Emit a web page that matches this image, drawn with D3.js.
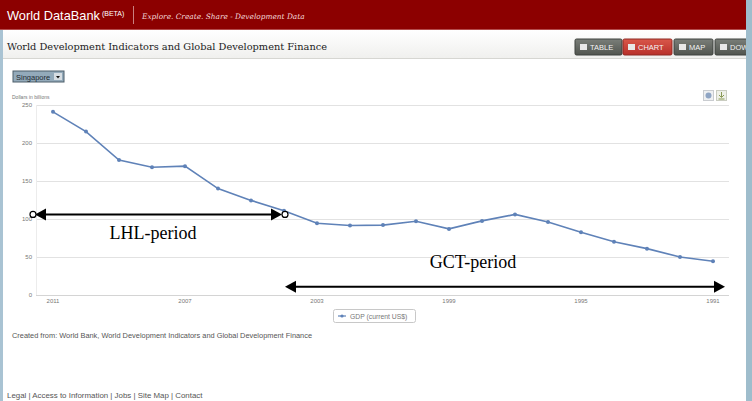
<!DOCTYPE html>
<html>
<head>
<meta charset="utf-8">
<script src="https://cdn.jsdelivr.net/npm/d3@7"></script>
<style>
  body { margin: 0; overflow: hidden; background: #fff; }
  svg { display: block; }
</style>
</head>
<body>
<div id="page"></div>
<script>
// GDP (current US$), Singapore, billions
const years = [2011, 2010, 2009, 2008, 2007, 2006, 2005, 2004, 2003, 2002, 2001,
               2000, 1999, 1998, 1997, 1996, 1995, 1994, 1993, 1992, 1991];
const gdp = [241, 215, 177.5, 168, 169.5, 140, 124.5, 111, 94.5, 91.5, 92,
             97, 87, 97.5, 106, 96, 82.5, 70, 61, 50, 44.5];
const yTicks = [0, 50, 100, 150, 200, 250];
const xTickLabels = [2011, 2007, 2003, 1999, 1995, 1991];
const periodLabels = ["LHL-period", "GCT-period"];

const width = 752;
const height = 401;

const svg = d3.select("#page")
  .append("svg")
  .attr("width", width)
  .attr("height", height)
  .style("font-family", "'Liberation Sans', Arial, sans-serif");

// ---------- page chrome ----------
const defs = svg.append("defs");
const sub = defs.append("linearGradient").attr("id", "subGrad").attr("x2", 0).attr("y2", 1);
sub.append("stop").attr("offset", 0).attr("stop-color", "#ffffff");
sub.append("stop").attr("offset", 1).attr("stop-color", "#f0f0ee");

const btnGrad = defs.append("linearGradient").attr("id", "btnGrad").attr("x2", 0).attr("y2", 1);
btnGrad.append("stop").attr("offset", 0).attr("stop-color", "#7a7e79");
btnGrad.append("stop").attr("offset", 1).attr("stop-color", "#51554f");

const redGrad = defs.append("linearGradient").attr("id", "redGrad").attr("x2", 0).attr("y2", 1);
redGrad.append("stop").attr("offset", 0).attr("stop-color", "#d9574a");
redGrad.append("stop").attr("offset", 1).attr("stop-color", "#b8302a");

svg.append("rect").attr("width", width).attr("height", height).attr("fill", "#fff");

// header bar
svg.append("rect").attr("width", width).attr("height", 29).attr("fill", "#8c0000");
svg.append("line").attr("x1", 0).attr("x2", width).attr("y1", 29.5).attr("y2", 29.5)
  .attr("stroke", "#b44b4b");

const brand = svg.append("text").attr("x", 7).attr("y", 19.5)
  .style("fill", "#fff").style("font-size", "12.8px");
brand.append("tspan").text("World DataBank");
brand.append("tspan").attr("dy", -4).style("font-size", "7px").text(" (BETA)");

svg.append("line").attr("x1", 133.5).attr("x2", 133.5).attr("y1", 6).attr("y2", 24)
  .attr("stroke", "#c98080");

svg.append("text").attr("x", 142).attr("y", 18.5)
  .style("font-family", "'DejaVu Serif', Georgia, serif")
  .style("font-style", "italic")
  .style("font-size", "7.4px")
  .style("fill", "#f3dada")
  .text("Explore. Create. Share - Development Data");

// sub header
svg.append("rect").attr("y", 30).attr("width", width).attr("height", 28).attr("fill", "url(#subGrad)");
svg.append("line").attr("x1", 0).attr("x2", width).attr("y1", 58.5).attr("y2", 58.5)
  .attr("stroke", "#d6d6d2");

svg.append("text").attr("x", 7).attr("y", 49.5)
  .style("font-family", "'DejaVu Serif', Georgia, serif")
  .style("font-size", "9.8px")
  .style("fill", "#222")
  .text("World Development Indicators and Global Development Finance");

// buttons
const buttons = [
  { label: "TABLE", x: 575, w: 47, red: false },
  { label: "CHART", x: 623, w: 49, red: true },
  { label: "MAP", x: 674, w: 39, red: false },
  { label: "DOWN", x: 715, w: 40, red: false }
];
const btn = svg.selectAll("g.btn").data(buttons).enter().append("g")
  .attr("transform", d => `translate(${d.x},39)`);
btn.append("rect")
  .attr("width", d => d.w).attr("height", 16).attr("rx", 1.5)
  .attr("fill", d => d.red ? "url(#redGrad)" : "url(#btnGrad)")
  .attr("stroke", d => d.red ? "#8e2a24" : "#3f423e");
btn.append("rect").attr("x", 5).attr("y", 5).attr("width", 7).attr("height", 6)
  .attr("fill", "#e8e8e8");
btn.append("text").attr("x", 15).attr("y", 11)
  .style("font-size", "7.5px").style("fill", "#f4f4f4")
  .text(d => d.label);

// side strips
svg.append("rect").attr("x", 0).attr("y", 30).attr("width", 3).attr("height", height - 30)
  .attr("fill", "#a9c3d3");
svg.append("rect").attr("x", 746).attr("y", 0).attr("width", 6).attr("height", height)
  .attr("fill", "#9fbdcc");

// country dropdown
const dd = svg.append("g").attr("transform", "translate(13,71)");
dd.append("rect").attr("width", 51).attr("height", 11).attr("fill", "#93aaba").attr("stroke", "#4d5e6a");
dd.append("text").attr("x", 3).attr("y", 8.5).style("font-size", "7.5px").style("fill", "#1e2a33").text("Singapore");
dd.append("rect").attr("x", 41).attr("y", 2).attr("width", 8).attr("height", 7).attr("fill", "#d6dde2");
dd.append("path").attr("d", "M43,5 L47,5 L45,7.5 Z").attr("fill", "#111");

// print / download icons
svg.append("rect").attr("x", 703.5).attr("y", 90.5).attr("width", 10).attr("height", 10)
  .attr("fill", "#eef0f2").attr("stroke", "#c9ccd0");
svg.append("circle").attr("cx", 708.5).attr("cy", 95.5).attr("r", 3).attr("fill", "#8fa5c4");
svg.append("rect").attr("x", 716.5).attr("y", 90.5).attr("width", 10).attr("height", 10)
  .attr("fill", "#eef0e8").attr("stroke", "#c9ccc0");
svg.append("path").attr("d", "M721.5,92 L721.5,97 M719,95 L721.5,97.5 L724,95 M718.5,99 L724.5,99")
  .attr("stroke", "#8a9a55").attr("fill", "none");

// ---------- chart ----------
const x = d3.scalePoint().domain(years).range([53, 713]);
const y = d3.scaleLinear().domain([0, 250]).range([295, 105]);
const plotLeft = 36, plotRight = 729;

svg.append("text").attr("x", 12).attr("y", 99)
  .style("font-size", "5px").style("fill", "#777")
  .text("Dollars in billions");

const grid = svg.append("g");
grid.selectAll("line").data(yTicks).enter().append("line")
  .attr("x1", plotLeft).attr("x2", plotRight)
  .attr("y1", d => Math.round(y(d)) + 0.5).attr("y2", d => Math.round(y(d)) + 0.5)
  .attr("stroke", d => d === 0 ? "#d4d4d4" : "#e2e2e2");
grid.append("line").attr("x1", plotLeft + 0.5).attr("x2", plotLeft + 0.5)
  .attr("y1", y(250)).attr("y2", y(0)).attr("stroke", "#ececec");

svg.append("g").selectAll("text").data(yTicks).enter().append("text")
  .attr("x", 32).attr("y", d => y(d) + 2)
  .attr("text-anchor", "end")
  .style("font-size", "6px").style("fill", "#777")
  .text(d => d);

svg.append("g").selectAll("text").data(xTickLabels).enter().append("text")
  .attr("x", d => x(d)).attr("y", 303)
  .attr("text-anchor", "middle")
  .style("font-size", "6px").style("fill", "#777")
  .text(d => d);

const series = years.map((yr, i) => ({ year: yr, value: gdp[i] }));
const lineColor = "#5f82b8";

svg.append("path")
  .datum(series)
  .attr("fill", "none")
  .attr("stroke", lineColor)
  .attr("stroke-width", 1.6)
  .attr("d", d3.line().x(d => x(d.year)).y(d => y(d.value)));

svg.append("g").selectAll("circle").data(series).enter().append("circle")
  .attr("cx", d => x(d.year)).attr("cy", d => y(d.value))
  .attr("r", 2).attr("fill", lineColor);

// legend
const lg = svg.append("g").attr("transform", "translate(333,309)");
lg.append("rect").attr("x", 0.5).attr("y", 0.5).attr("width", 82).attr("height", 13).attr("rx", 2)
  .attr("fill", "#fff").attr("stroke", "#c8c8c8");
lg.append("line").attr("x1", 5).attr("x2", 13).attr("y1", 7).attr("y2", 7).attr("stroke", lineColor).attr("stroke-width", 1.2);
lg.append("circle").attr("cx", 9).attr("cy", 7).attr("r", 1.6).attr("fill", lineColor);
lg.append("text").attr("x", 17).attr("y", 9.5).style("font-size", "6.8px").style("fill", "#777")
  .text("GDP (current US$)");

svg.append("text").attr("x", 12).attr("y", 338)
  .style("font-size", "7.4px").style("fill", "#555")
  .text("Created from: World Bank, World Development Indicators and Global Development Finance");

svg.append("text").attr("x", 7).attr("y", 398)
  .style("font-size", "7.9px").style("fill", "#555")
  .text("Legal | Access to Information | Jobs | Site Map | Contact");

// ---------- period annotations ----------
function arrow(x1, x2, yy) {
  const g = svg.append("g");
  g.append("line").attr("x1", x1 + 8).attr("x2", x2 - 8).attr("y1", yy).attr("y2", yy)
    .attr("stroke", "#000").attr("stroke-width", 2);
  g.append("path").attr("d", `M${x1},${yy} L${x1 + 11},${yy - 6} L${x1 + 11},${yy + 6} Z`).attr("fill", "#000");
  g.append("path").attr("d", `M${x2},${yy} L${x2 - 11},${yy - 6} L${x2 - 11},${yy + 6} Z`).attr("fill", "#000");
  return g;
}

const lhlY = y(106);
const lhl = arrow(plotLeft - 1, x(2004) - 2, lhlY);
[plotLeft - 3, x(2004) + 1].forEach(cx => {
  lhl.append("circle").attr("cx", cx).attr("cy", lhlY).attr("r", 3)
    .attr("fill", "#fff").attr("stroke", "#000").attr("stroke-width", 1.2);
});

const gctY = y(11);
arrow(x(2004) + 1, x(1991) + 12, gctY);

svg.append("text").attr("x", 153).attr("y", 239)
  .attr("text-anchor", "middle")
  .style("font-family", "'Liberation Serif', 'Times New Roman', serif")
  .style("font-size", "18px").style("fill", "#000")
  .text(periodLabels[0]);

svg.append("text").attr("x", 473).attr("y", 268)
  .attr("text-anchor", "middle")
  .style("font-family", "'Liberation Serif', 'Times New Roman', serif")
  .style("font-size", "18px").style("fill", "#000")
  .text(periodLabels[1]);
</script>
</body>
</html>
